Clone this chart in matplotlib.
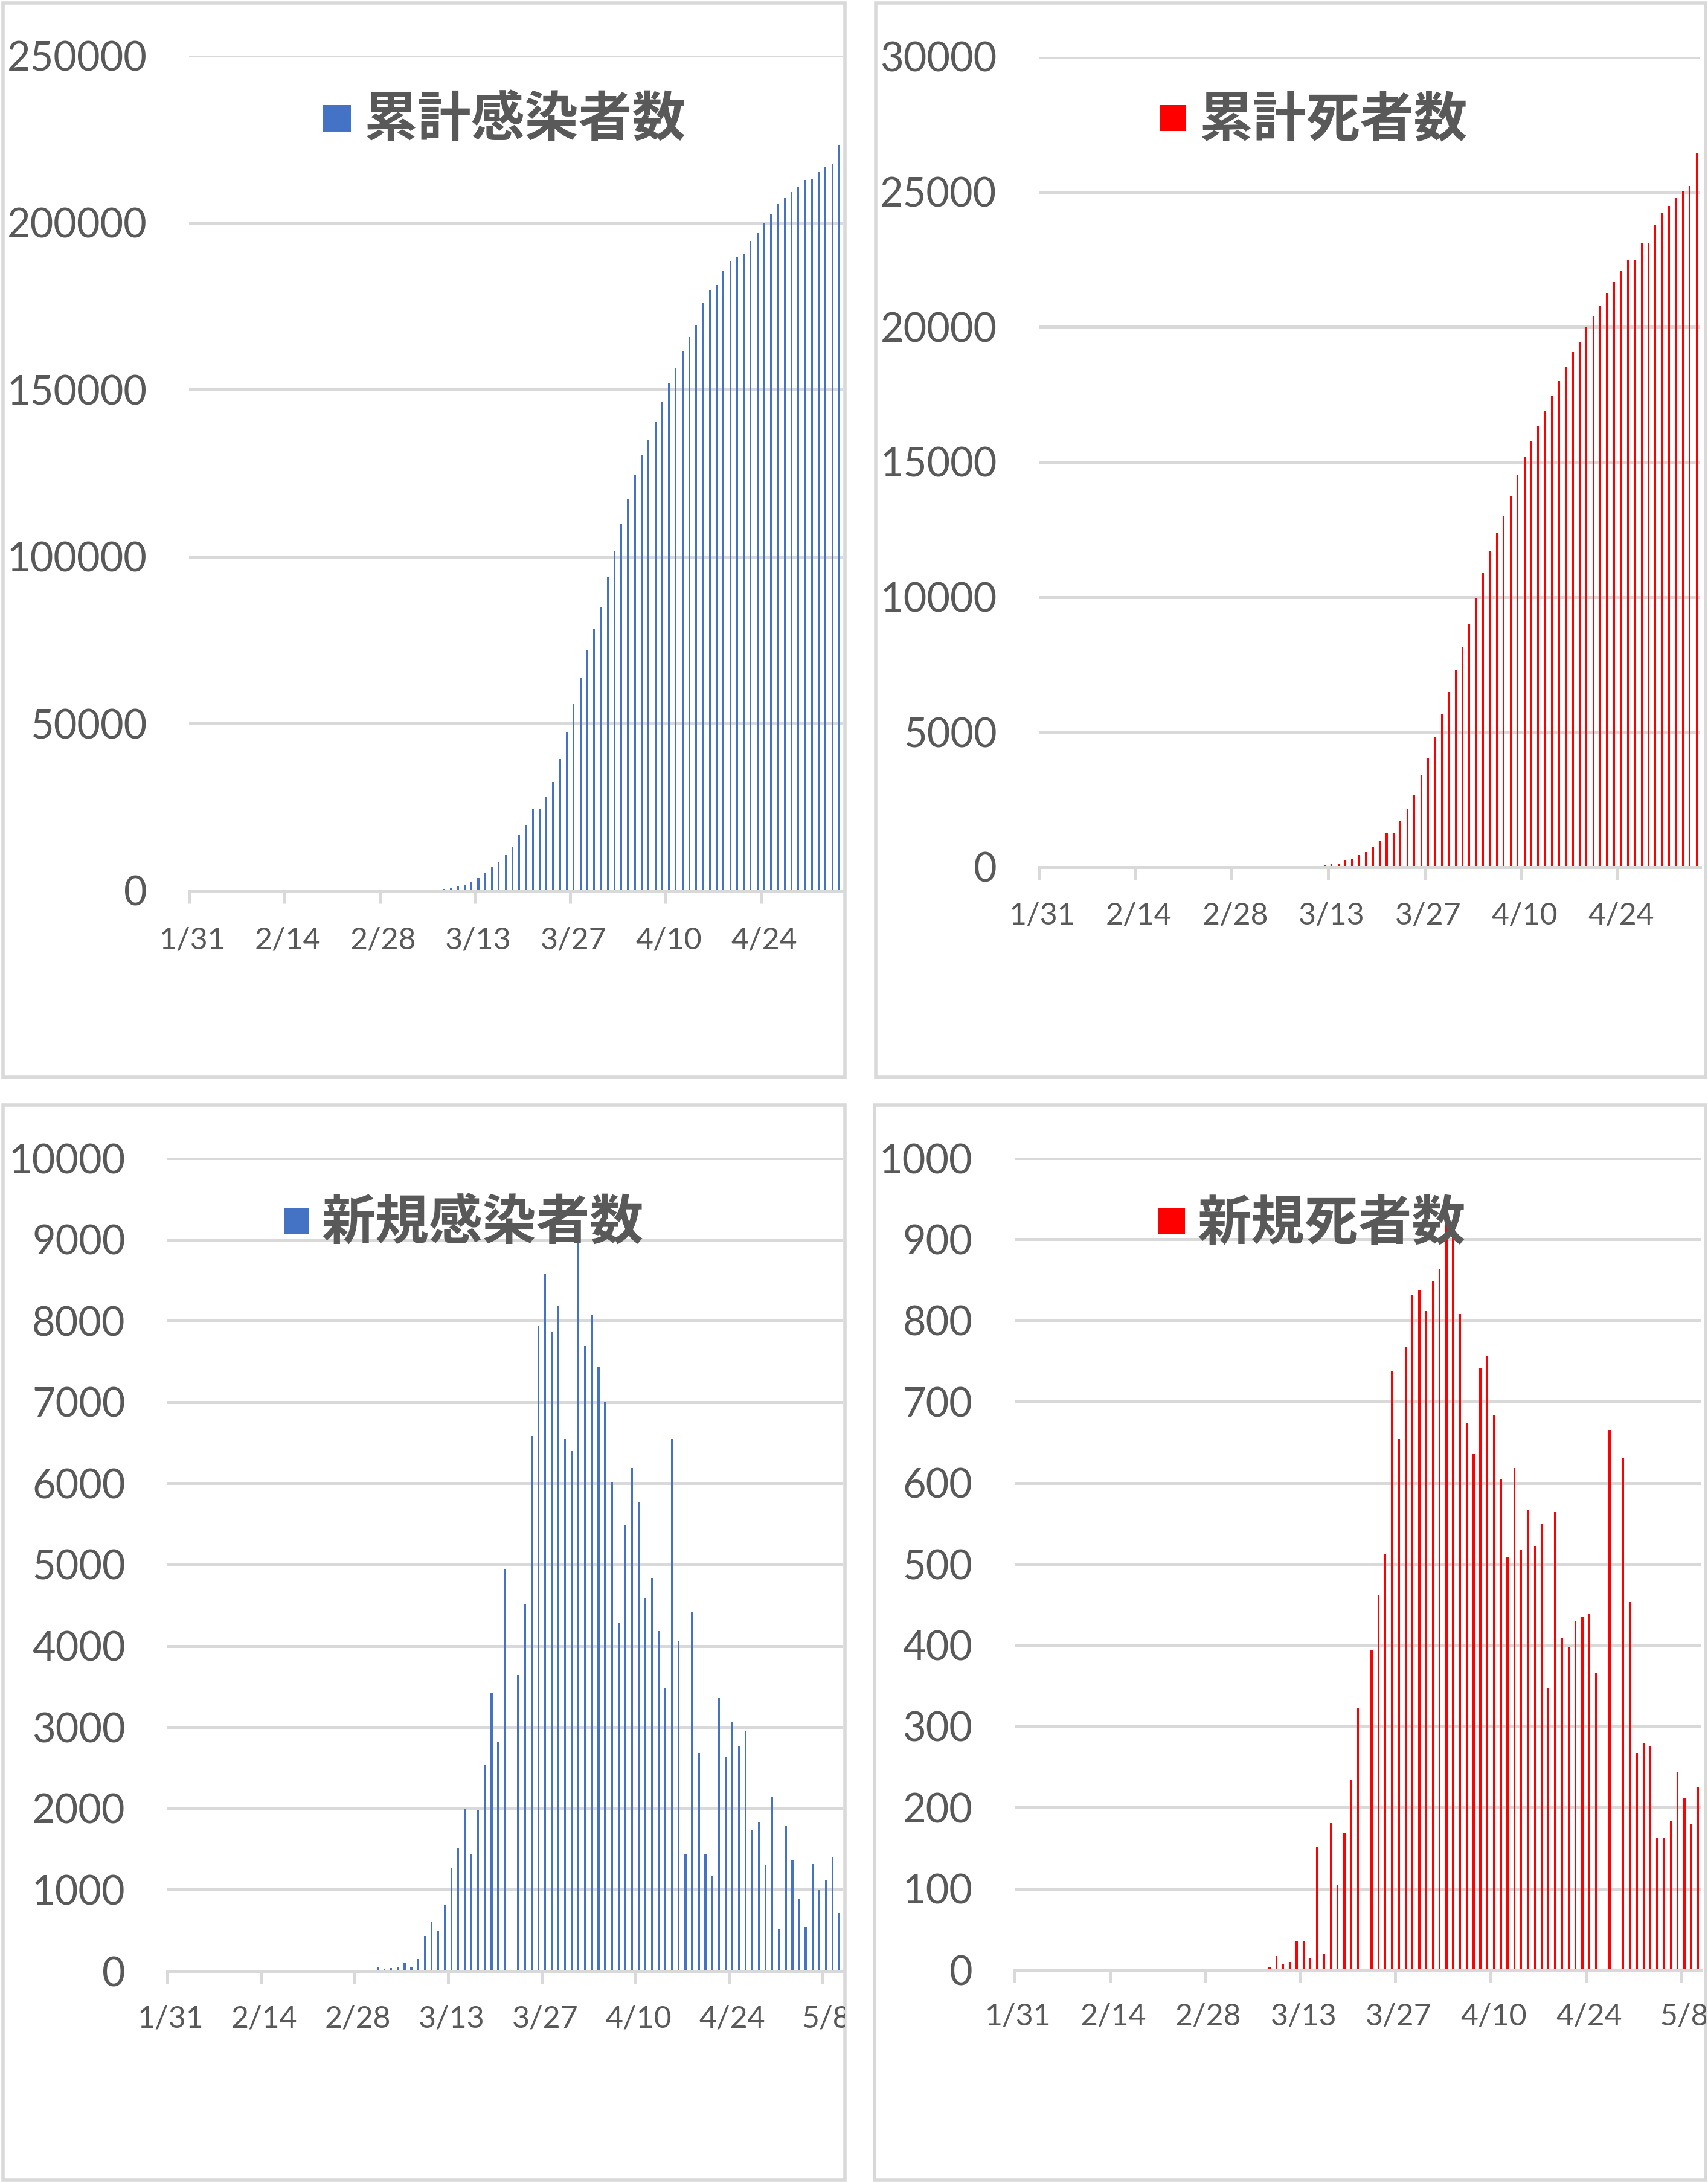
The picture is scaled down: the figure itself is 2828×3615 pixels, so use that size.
import datetime as dt
import numpy as np
import matplotlib
matplotlib.use("Agg")
import matplotlib.pyplot as plt
from matplotlib.patches import Rectangle
from matplotlib.transforms import Bbox, TransformedBbox, blended_transform_factory

plt.rcParams['font.family'] = ['Lato', 'DejaVu Sans']

# ---- data, day 0 = 1/31 ----
start = dt.date(2020, 1, 31)

# cumulative cases, 3/2 .. 5/5
cum_cases_first = (3, 2)
cum_cases = [120, 150, 190, 240, 350, 400, 500, 900, 1400, 1800, 2600, 3800, 5300, 7200,
             8700, 10660, 13200, 16670, 19520, 24470, 24470, 28080, 32580, 39340, 47300,
             55860, 63800, 71920, 78380, 84980,
             94000, 101800, 109910, 117270, 124470, 130480, 134830, 140240, 146400, 152100,
             156600, 161560, 165770, 169370, 175830, 179880, 181380, 185590, 188440, 189790,
             190690, 194440, 196850, 200000, 202700, 205700, 207360, 209160, 210660, 212760,
             213210, 215160, 216520, 217420, 223270]

# cumulative deaths, 3/3 .. 5/5
cum_deaths_first = (3, 3)
cum_deaths = [1, 2, 3, 5, 8, 10, 28, 35, 47, 84, 120, 136,
              260, 280, 450, 570, 730, 960, 1280, 1280, 1690, 2150, 2660, 3400, 4050, 4800,
              5650, 6480, 7290,
              8130, 9010, 9950, 10880, 11690, 12380, 13010, 13750, 14500, 15200, 15790, 16310,
              16910, 17430, 18000, 18520, 19070, 19420, 19990, 20400, 20800, 21230, 21660,
              22090, 22465, 22465, 23120, 23120, 23760, 24210,
              24480, 24765, 25035, 25215, 26430]

# new cases, 3/2 .. 5/10
new_cases_first = (3, 2)
new_cases = [55, 25, 40, 47, 107, 47, 152, 428, 608, 495, 815, 1266, 1516, 1993, 1435, 1980,
             2538, 3428, 2826, 4950, 0, 3647, 4518, 6586, 7939, 8578, 7870, 8190, 6548, 6398,
             9220, 7689, 8065, 7432, 7000, 6020, 4280, 5490, 6192, 5766, 4588, 4838, 4180,
             3484, 6542, 4054, 1440, 4411, 2681, 1440, 1165, 3359, 2637, 3058, 2770, 2951,
             1731, 1830, 1303, 2143,
             514, 1781, 1366, 884, 545, 1322, 1000, 1115, 1404, 714]

# new deaths, 3/8 .. 5/10
new_deaths_first = (3, 8)
new_deaths = [3, 17, 7, 10, 36, 35, 14, 151, 20, 181, 105, 168, 234, 323, 0, 394, 461, 513,
              737, 654, 767, 832, 838, 812,
              848, 863, 940, 920, 808, 673, 636, 742, 756, 683, 605, 509, 618, 517, 566, 522,
              550, 347, 564, 409, 398, 430, 435, 439, 366, 0, 665, 0, 631, 453,
              267, 280, 275, 163, 163, 184, 243, 212, 180, 225]

W, H = 2828, 3615
BLUE = '#4472C4'
RED = '#FF0000'
TXT = '#595959'
GRID = '#D9D9D9'
CJK = ['Noto Sans CJK JP', 'DejaVu Sans']

fig = plt.figure(figsize=(W / 100, H / 100), dpi=100)


def frac_rect(l, t, r, b):
    return [l / W, 1 - b / H, (r - l) / W, (b - t) / H]


def series(first, vals, ndays):
    y = np.zeros(ndays)
    i0 = (dt.date(2020, *first) - start).days
    y[i0:i0 + len(vals)] = vals
    return y


def draw_panel(frame, box, ndays, first, vals, color, ymax, ystep,
               title, sq, txt_x, title_y, label_y, bw):
    l, t, r, b = frame
    fig.add_artist(Rectangle((l / W, 1 - b / H), (r - l) / W, (b - t) / H,
                             transform=fig.transFigure, facecolor='none',
                             edgecolor=GRID, lw=4, zorder=-1))
    clip = TransformedBbox(Bbox.from_extents(l / W, 1 - b / H, r / W, 1 - t / H),
                           fig.transFigure)

    ax = fig.add_axes(frac_rect(*box))
    ax.patch.set_alpha(0)
    x = np.arange(ndays)
    ax.bar(x, series(first, vals, ndays), width=bw, color=color, zorder=2)
    ax.set_xlim(-0.5, ndays - 0.5)
    ax.set_ylim(0, ymax)
    ax.set_yticks(np.arange(0, ymax + 1, ystep))
    ax.grid(axis='y', color=GRID, lw=3.6, zorder=0)
    ax.set_axisbelow(True)
    for s in ('left', 'right', 'top'):
        ax.spines[s].set_visible(False)
    ax.spines['bottom'].set_color(GRID)
    ax.spines['bottom'].set_linewidth(3.6)
    ax.tick_params(axis='y', length=0, pad=50, labelsize=48, labelcolor=TXT)
    ticks = np.arange(0, ndays, 14)
    ax.set_xticks(ticks - 0.5)
    ax.tick_params(axis='x', length=15, width=3.6, color=GRID, labelbottom=False)

    # date labels, clipped by the chart frame like the original
    tr = blended_transform_factory(ax.transData, fig.transFigure)
    for i in ticks:
        d = start + dt.timedelta(days=int(i))
        tx = fig.text(i, 1 - label_y / H, f'{d.month}/{d.day}', transform=tr,
                      ha='center', va='center', fontsize=36, color=TXT)
        tx.set_clip_on(True)
        tx.set_clip_box(clip)

    # legend-like title
    s0, s1, st, sb = sq
    fig.add_artist(Rectangle((s0 / W, 1 - sb / H), (s1 - s0) / W, (sb - st) / H,
                             transform=fig.transFigure, facecolor=color,
                             edgecolor='none', zorder=5))
    fig.text(txt_x / W, 1 - title_y / H, title, ha='left', va='center',
             fontsize=64, fontweight='bold', color=TXT, family=CJK, zorder=6)
    return ax


draw_panel((5, 5, 1399, 1784), (313, 92, 1395, 1475), 96, cum_cases_first, cum_cases,
           BLUE, 250000, 50000, '累計感染者数', (535, 581, 174, 218), 602, 200, 1558, 0.27)
draw_panel((1450, 5, 2824, 1784), (1720, 94, 2815, 1436), 96, cum_deaths_first, cum_deaths,
           RED, 30000, 5000, '累計死者数', (1920, 1963, 174, 217), 1985, 200, 1516, 0.27)
draw_panel((5, 1830, 1399, 3610), (277, 1918, 1395, 3264), 101, new_cases_first, new_cases,
           BLUE, 10000, 1000, '新規感染者数', (470, 512, 2000, 2044), 533, 2027, 3344, 0.3)
draw_panel((1448, 1830, 2824, 3610), (1680, 1918, 2817, 3262), 101, new_deaths_first, new_deaths,
           RED, 1000, 100, '新規死者数', (1918, 1962, 2000, 2044), 1983, 2027, 3340, 0.3)

fig.savefig('out.png', dpi=100, facecolor='white')
